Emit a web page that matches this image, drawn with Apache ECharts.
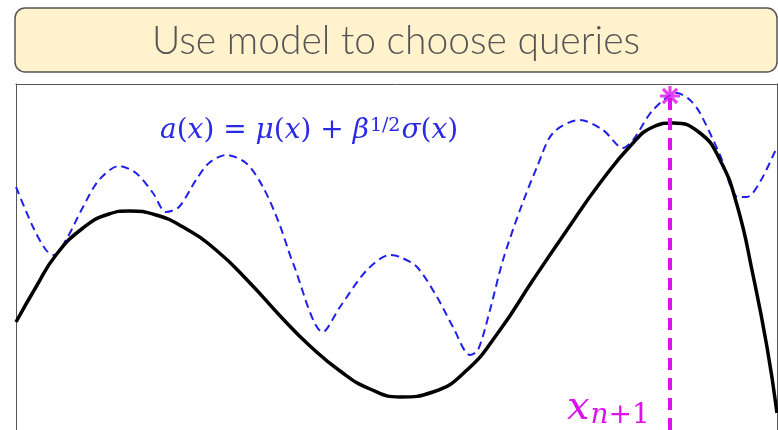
<!DOCTYPE html>
<html>
<head>
<meta charset="utf-8">
<script src="https://cdn.jsdelivr.net/npm/echarts@6/dist/echarts.min.js"></script>
<style>
  html, body { margin: 0; padding: 0; background: #fff; }
  #chart { width: 778px; height: 430px; }
</style>
</head>
<body>
<div id="chart"></div>
<script>
// curves: x along the plot, y up from the plot floor
var meanX = [16, 36, 56, 83, 109, 129, 156, 183, 216, 249, 283, 310, 340, 370, 400, 433, 467, 500, 533, 567, 600, 633, 653, 673, 700, 720, 737, 753, 767, 777];
var meanY = [128, 163, 195, 222, 236, 239, 235, 223, 200, 168, 131, 104, 79, 61, 53, 58, 80, 120, 170, 220, 267, 307, 323, 327, 317, 290, 245, 175, 103, 37];

var acqX = [16, 33, 46, 54, 66, 83, 99, 119, 136, 153, 166, 179, 196, 209, 226, 246, 263, 279, 293, 323, 340, 367, 390, 400, 417, 437, 453, 470, 478, 490, 503, 520, 537, 553, 580, 603, 623, 633, 653, 677, 690, 700, 720, 738, 747, 760, 777];
var acqY = [263, 223, 200, 195, 210, 243, 270, 284, 277, 257, 238, 243, 270, 287, 295, 287, 263, 227, 187, 118, 143, 180, 195, 193, 183, 153, 123, 95, 100, 140, 190, 240, 283, 317, 330, 320, 302, 310, 340, 357, 350, 337, 295, 253, 253, 268, 303];

var nextX = 670;
var nextTop = 354;

function pairs(xs, ys) {
    var out = [];
    for (var i = 0; i < xs.length; i++) out.push([xs[i], ys[i]]);
    return out;
}

var starPath = 'path://M-1.6,-10L1.6,-10L1.6,10L-1.6,10Z' +
    'M-10,-1.6L10,-1.6L10,1.6L-10,1.6Z' +
    'M-8.2,-5.9L-5.9,-8.2L8.2,5.9L5.9,8.2Z' +
    'M5.9,-8.2L8.2,-5.9L-5.9,8.2L-8.2,5.9Z';

var hidden = {
    axisTick: { show: false }, axisLabel: { show: false }, splitLine: { show: false }
};
var frame = { show: true, lineStyle: { color: '#555', width: 1 } };

var myChart = echarts.init(document.getElementById('chart'));

var option = {
    animation: false,
    backgroundColor: '#fff',
    grid: { left: 16, right: 1, top: 84, bottom: 0 },
    xAxis: Object.assign({
        type: 'value', min: 16, max: 777, position: 'top', axisLine: frame
    }, hidden),
    yAxis: [
        Object.assign({ type: 'value', min: 20, max: 366, position: 'left', axisLine: frame }, hidden),
        Object.assign({ type: 'value', min: 20, max: 366, position: 'right', axisLine: frame }, hidden)
    ],
    graphic: [
        {
            type: 'rect',
            shape: { x: 15, y: 8, width: 762, height: 64, r: 10 },
            style: { fill: '#fff2cc', stroke: '#555', lineWidth: 1.5 }
        },
        {
            type: 'text',
            x: 396, y: 41,
            style: {
                text: 'Use model to choose queries',
                fontFamily: 'Lato', fontWeight: 300, fontSize: 39,
                fill: '#555', align: 'center', verticalAlign: 'middle'
            }
        },
        {
            type: 'text',
            x: 160, y: 131, z: 10,
            style: {
                text: '{i|a}{r|(}{i|x}{r|) = }{i|μ}{r|(}{i|x}{r|) + }{i|β}{s|1/2}{i|σ}{r|(}{i|x}{r|)}',
                verticalAlign: 'middle',
                fill: '#2a2ae6',
                rich: {
                    i: { fontFamily: 'DejaVu Serif', fontStyle: 'italic', fontSize: 28, fill: '#2a2ae6' },
                    r: { fontFamily: 'DejaVu Serif', fontSize: 28, fill: '#2a2ae6' },
                    s: { fontFamily: 'DejaVu Serif', fontSize: 19, fill: '#2a2ae6', verticalAlign: 'top', padding: [0, 1, 10, 1] }
                }
            }
        },
        {
            type: 'text',
            x: 567, y: 409, z: 10,
            style: {
                text: '{i|x}{n|n}{s|+1}',
                verticalAlign: 'middle',
                fill: '#dd11ee',
                rich: {
                    i: { fontFamily: 'DejaVu Serif', fontStyle: 'italic', fontSize: 40, fill: '#dd11ee' },
                    n: { fontFamily: 'DejaVu Serif', fontStyle: 'italic', fontSize: 28, fill: '#dd11ee', verticalAlign: 'bottom', padding: [14, 0, 0, 1] },
                    s: { fontFamily: 'DejaVu Serif', fontSize: 28, fill: '#dd11ee', verticalAlign: 'bottom', padding: [14, 0, 0, 0] }
                }
            }
        }
    ],
    series: [
        {
            name: 'acquisition',
            type: 'line',
            data: pairs(acqX, acqY),
            smooth: 0.3,
            showSymbol: false,
            lineStyle: { color: '#2020e8', width: 2, type: [8, 5] },
            z: 2
        },
        {
            name: 'mean',
            type: 'line',
            data: pairs(meanX, meanY),
            smooth: 0.5,
            showSymbol: false,
            lineStyle: { color: '#000', width: 3.5 },
            z: 3
        },
        {
            name: 'next',
            type: 'line',
            data: [[nextX, 0], [nextX, nextTop]],
            showSymbol: false,
            lineStyle: { color: '#dd11ee', width: 4, type: [12, 8] },
            z: 4
        },
        {
            name: 'star',
            type: 'scatter',
            data: [[nextX, nextTop]],
            symbol: starPath,
            symbolSize: 20,
            itemStyle: { color: '#dd11ee' },
            z: 5
        }
    ]
};

myChart.setOption(option);
</script>
</body>
</html>
